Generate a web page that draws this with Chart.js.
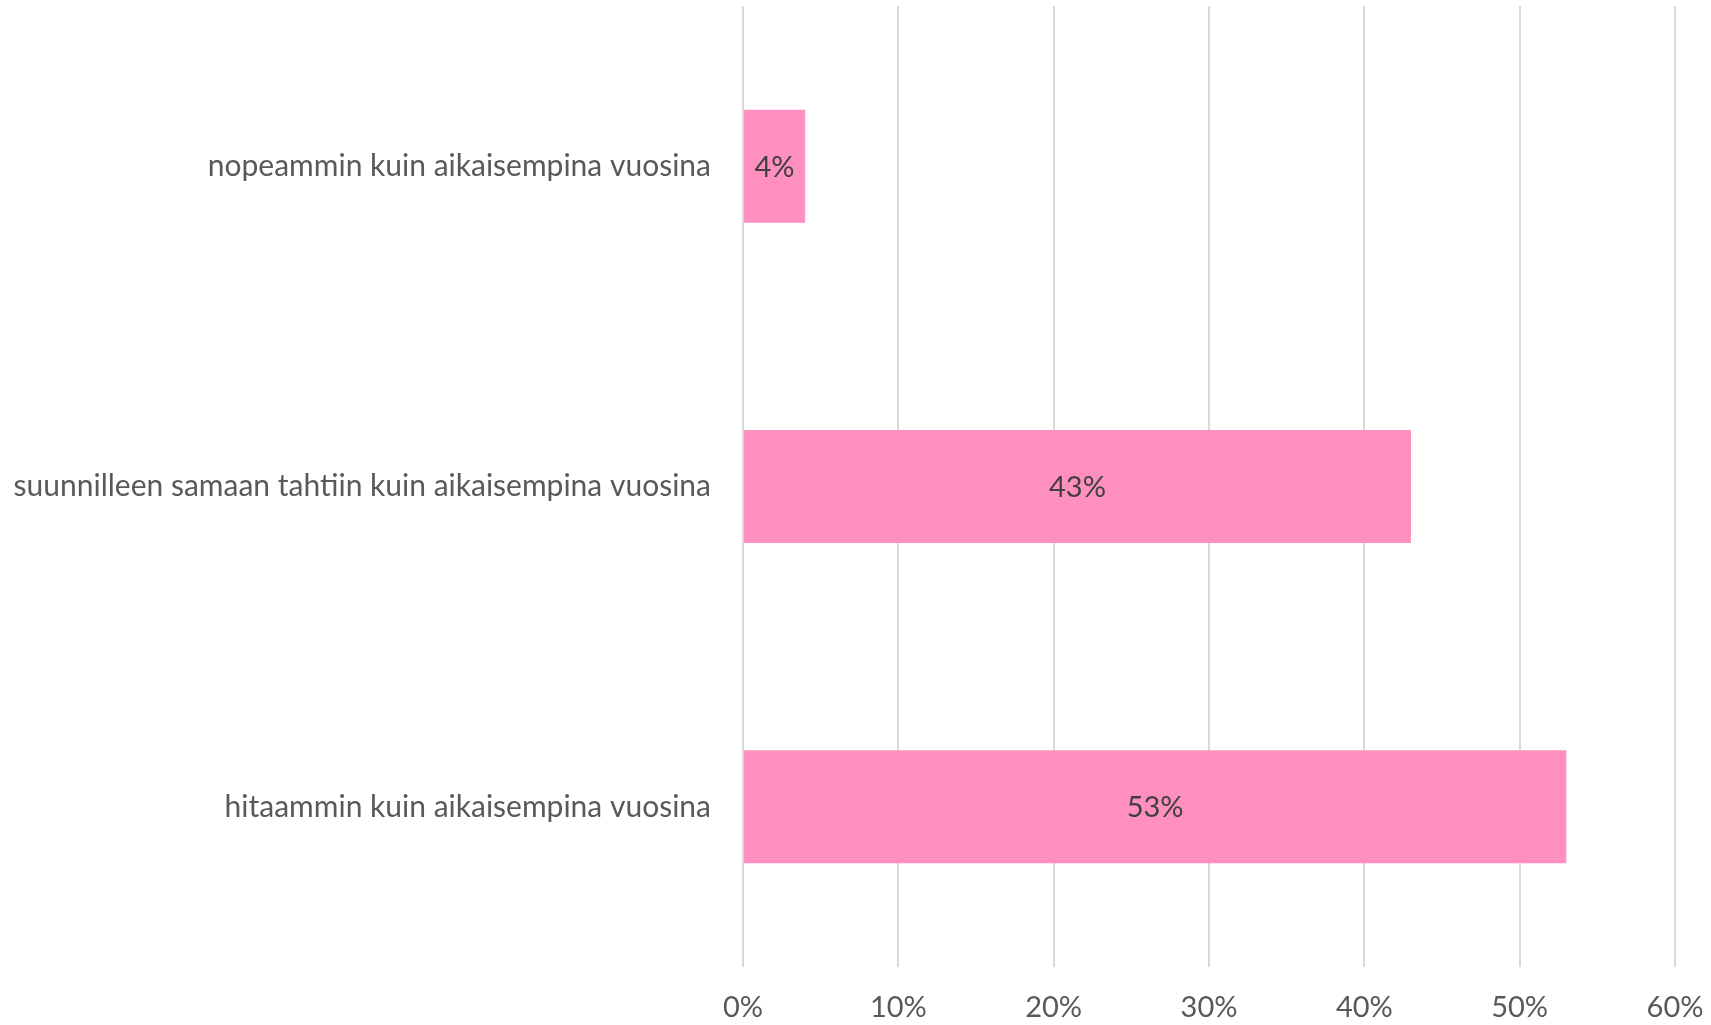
<!DOCTYPE html>
<html>
<head>
<meta charset="utf-8">
<script src="https://cdn.jsdelivr.net/npm/chart.js@4.4.1/dist/chart.umd.min.js"></script>
<style>
  html, body { margin: 0; padding: 0; background: #fff; }
  #wrap { width: 1711px; height: 1025px; }
</style>
</head>
<body>
<div id="wrap"><canvas id="chart" width="1711" height="1025"></canvas></div>
<script>
// Chart data
const categories = [
  'nopeammin kuin aikaisempina vuosina',
  'suunnilleen samaan tahtiin kuin aikaisempina vuosina',
  'hitaammin kuin aikaisempina vuosina'
];
const shares = [0.04, 0.43, 0.53];
const tickValues = [0, 0.1, 0.2, 0.3, 0.4, 0.5, 0.6];

const FONT = 'Lato, "Open Sans", sans-serif';

// Draw value labels centered inside each bar
const barLabels = {
  id: 'barLabels',
  afterDatasetsDraw(chart) {
    const ctx = chart.ctx;
    const meta = chart.getDatasetMeta(0);
    ctx.save();
    ctx.font = '29px ' + FONT;
    ctx.fillStyle = '#404040';
    ctx.textAlign = 'center';
    ctx.textBaseline = 'middle';
    meta.data.forEach((bar, i) => {
      const x = (bar.base + bar.x) / 2;
      ctx.fillText(Math.round(shares[i] * 100) + '%', x, bar.y + 1);
    });
    ctx.restore();
  }
};

new Chart(document.getElementById('chart'), {
  type: 'bar',
  data: {
    labels: categories,
    datasets: [{
      data: shares,
      backgroundColor: '#FF8FBE',
      categoryPercentage: 1,
      barPercentage: 0.353
    }]
  },
  options: {
    indexAxis: 'y',
    responsive: false,
    animation: false,
    layout: { padding: { top: 6, right: 36, left: 0, bottom: 0 } },
    plugins: {
      legend: { display: false },
      tooltip: { enabled: false }
    },
    scales: {
      x: {
        min: 0,
        max: 0.6,
        afterBuildTicks(scale) {
          scale.ticks = tickValues.map(v => ({ value: v }));
        },
        afterFit(scale) {
          scale.height = 58;
          scale.paddingLeft = 0;
          scale.paddingRight = 0;
        },
        grid: { color: '#D9D9D9', lineWidth: 2, drawTicks: false },
        border: { display: false },
        ticks: {
          padding: 23,
          color: '#595959',
          font: { family: FONT, size: 29 },
          callback: v => Math.round(v * 100) + '%'
        }
      },
      y: {
        afterFit(scale) {
          scale.width = 743;
          scale.paddingTop = 0;
          scale.paddingBottom = 0;
        },
        grid: { display: false },
        border: { display: false },
        ticks: {
          padding: 24,
          color: '#595959',
          font: { family: FONT, size: 30 }
        }
      }
    }
  },
  plugins: [barLabels]
});
</script>
</body>
</html>
